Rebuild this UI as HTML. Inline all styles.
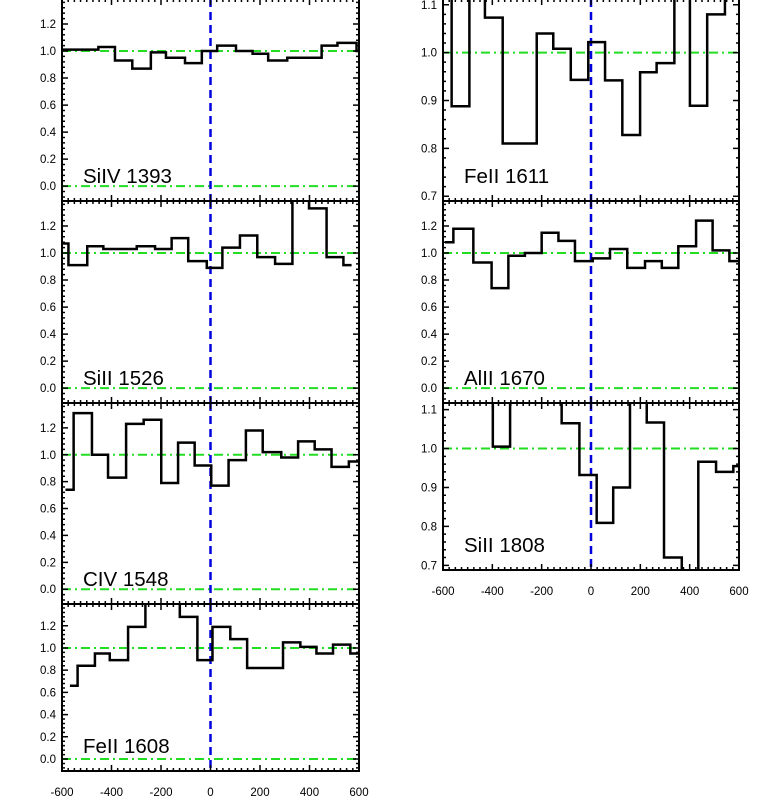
<!DOCTYPE html>
<html><head><meta charset="utf-8"><style>
body{margin:0;background:#fff;}
svg{display:block;font-family:"Liberation Sans",sans-serif;}
</style></head><body>
<svg id="chart" width="761" height="807" viewBox="0 0 761 807" xmlns="http://www.w3.org/2000/svg"></svg>
<script>
// ---- data ----
const siiv1393Edges = [-600,-453,-386,-316,-241,-180,-103,-35,27,103,170,233,310,449,513,590,600];
const siiv1393Vals  = [1.01,1.03,0.93,0.87,0.99,0.95,0.91,1.0,1.04,1.0,0.98,0.93,0.95,1.04,1.06,1.0];
const sii1526Edges = [-600,-574,-498,-433,-366,-298,-224,-157,-90,-15,48,119,189,261,331,398,469,537,570];
const sii1526Vals  = [1.07,0.91,1.05,1.03,1.03,1.05,1.03,1.11,0.94,0.89,1.04,1.13,0.97,0.92,1.5,1.33,0.97,0.91];
const civ1548Edges = [-586,-553,-479,-414,-341,-270,-199,-131,-64,3,73,143,211,286,354,421,489,559,602];
const civ1548Vals  = [0.74,1.31,1.0,0.83,1.23,1.26,0.79,1.09,0.92,0.77,0.96,1.18,1.02,0.98,1.10,1.04,0.91,0.95];
const feii1608Edges = [-568,-537,-467,-407,-333,-263,-124,-53,8,80,148,293,363,428,495,565,600];
const feii1608Vals  = [0.66,0.84,0.95,0.89,1.19,1.5,1.28,0.89,1.19,1.08,0.82,1.05,1.01,0.95,1.03,0.95];
const feii1611Edges = [-600,-565,-493,-430,-358,-220,-153,-82,-11,57,127,199,266,338,401,471,543,600];
const feii1611Vals  = [1.2,0.888,1.2,1.073,0.81,1.04,1.008,0.943,1.022,0.942,0.828,0.959,0.978,1.2,0.889,1.08,1.2];
const alii1670Edges = [-592,-558,-477,-403,-335,-268,-200,-132,-65,7,77,147,219,287,354,426,493,561,600];
const alii1670Vals  = [1.08,1.18,0.93,0.74,0.98,1.0,1.15,1.09,0.94,0.96,1.03,0.89,0.94,0.89,1.05,1.24,1.02,0.94];
const sii1808Edges = [-600,-398,-328,-119,-47,23,90,158,226,296,368,435,507,577,600];
const sii1808Vals  = [1.2,1.005,1.2,1.065,0.932,0.809,0.90,1.2,1.067,0.72,0.6,0.966,0.94,0.955];
const xTickLabels = [-600,-400,-200,0,200,400,600];
const yTicksFull = [0.0,0.2,0.4,0.6,0.8,1.0,1.2];
const yTicksNarrow = [0.7,0.8,0.9,1.0,1.1];

const NS="http://www.w3.org/2000/svg";
const svg=document.getElementById('chart');
function mk(tag,attrs,parent){const e=document.createElementNS(NS,tag);for(const k in attrs)e.setAttribute(k,attrs[k]);(parent||svg).appendChild(e);return e;}

const panels=[
 {id:'siiv-1393',label:'SiIV 1393',x0:62,x1:359,top:-1,bot:201,ymin:-0.11,ymax:1.385,ticks:yTicksFull,e:siiv1393Edges,v:siiv1393Vals,xl:false},
 {id:'sii-1526',label:'SiII 1526',x0:62,x1:359,top:201,bot:403,ymin:-0.11,ymax:1.385,ticks:yTicksFull,e:sii1526Edges,v:sii1526Vals,xl:false},
 {id:'civ-1548',label:'CIV 1548',x0:62,x1:359,top:403,bot:604,ymin:-0.11,ymax:1.385,ticks:yTicksFull,e:civ1548Edges,v:civ1548Vals,xl:false},
 {id:'feii-1608',label:'FeII 1608',x0:62,x1:359,top:604,bot:771,ymin:-0.108,ymax:1.396,ticks:yTicksFull,e:feii1608Edges,v:feii1608Vals,xl:true},
 {id:'feii-1611',label:'FeII 1611',x0:443,x1:739,top:-1,bot:201,ymin:0.69,ymax:1.112,ticks:yTicksNarrow,e:feii1611Edges,v:feii1611Vals,xl:false},
 {id:'alii-1670',label:'AlII 1670',x0:443,x1:739,top:201,bot:403,ymin:-0.11,ymax:1.385,ticks:yTicksFull,e:alii1670Edges,v:alii1670Vals,xl:false},
 {id:'sii-1808',label:'SiII 1808',x0:443,x1:739,top:403,bot:570,ymin:0.688,ymax:1.117,ticks:yTicksNarrow,e:sii1808Edges,v:sii1808Vals,xl:true}
];

const defs=mk('defs',{});
panels.forEach((p,i)=>{
  const xs=v=>p.x0+(v+600)/1200*(p.x1-p.x0);
  const ys=v=>p.bot-(v-p.ymin)/(p.ymax-p.ymin)*(p.bot-p.top);
  const g=mk('g',{});
  
  
  const cp=mk('clipPath',{id:'cp'+i},defs);
  mk('rect',{x:p.x0,y:p.top,width:p.x1-p.x0,height:p.bot-p.top},cp);
  [0,1].forEach(r=>{
    if(r<p.ymin||r>p.ymax)return;
    const l=mk('line',{x1:p.x0,x2:p.x1,y1:ys(r),y2:ys(r),stroke:'#22dd22','stroke-width':2,'stroke-dasharray':'9,4,2,4'},g);
    
    
  });
  const vl=mk('line',{x1:xs(0),x2:xs(0),y1:p.top,y2:p.bot,stroke:'#0000dd','stroke-width':2.5,'stroke-dasharray':'8,5'},g);
  
  
  let d='';
  for(let k=0;k<p.v.length;k++){
    const y=ys(p.v[k]);
    d+=(k===0?'M':'L')+xs(p.e[k])+','+y+'L'+xs(p.e[k+1])+','+y;
  }
  const h=mk('path',{d:d,fill:'none',stroke:'#000','stroke-width':2.5,'clip-path':'url(#cp'+i+')'},g);
  
  
  let td='';
  for(let v=-600;v<=600;v+=25){
    const L=(v%200===0)?6:3;const x=xs(v);
    td+='M'+x+','+p.top+'v'+L+'M'+x+','+p.bot+'v'+(-L);
  }
  const step=p.ticks[1]-p.ticks[0];
  for(let t=p.ticks[0]-step;t<=p.ymax+1e-9;t+=step/5){
    if(t<p.ymin)continue;
    const maj=Math.abs(Math.round((t-p.ticks[0])/step)*step+p.ticks[0]-t)<1e-6;
    const L=maj?6:3;const y=ys(t);
    td+='M'+p.x0+','+y+'h'+L+'M'+p.x1+','+y+'h'+(-L);
  }
  const tk=mk('path',{d:td,stroke:'#000','stroke-width':1.5,fill:'none'},g);
  
  
  const box=mk('rect',{x:p.x0,y:p.top,width:p.x1-p.x0,height:p.bot-p.top,fill:'none',stroke:'#000','stroke-width':2},g);
  
  
  p.ticks.forEach(t=>{
    const y=ys(t);
    if(y<3)return;
    const tx=mk('text',{x:p.x0-6,y:y+4,'text-anchor':'end','font-size':11.5,fill:'#000'},g);
    tx.textContent=t.toFixed(1);
    
    
  });
  const lb=mk('text',{x:p.x0+21,y:p.bot-18,'font-size':20.5,fill:'#000'},g);
  lb.textContent=p.label;
  
  
  if(p.xl){
    xTickLabels.forEach(v=>{
      const tx=mk('text',{x:xs(v),y:p.bot+25,'text-anchor':'middle','font-size':11.5,fill:'#000'},g);
      tx.textContent=String(v);
      
      
    });
  }
});
</script>
</body></html>
